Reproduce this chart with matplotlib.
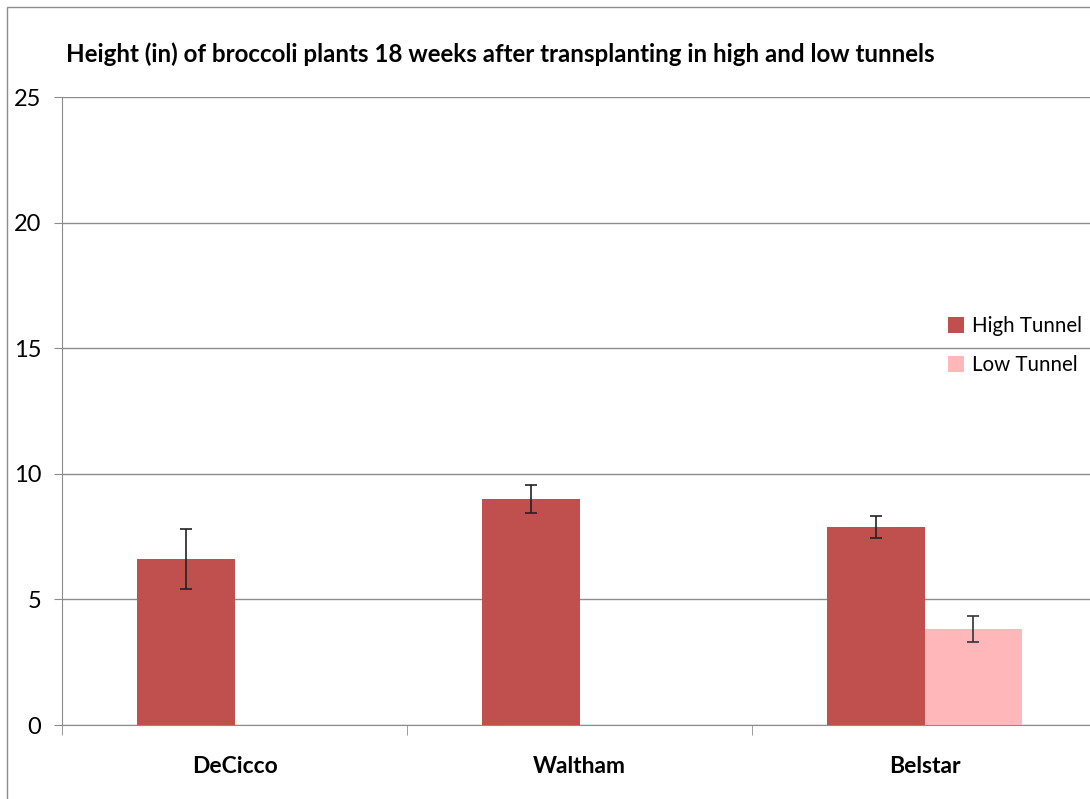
import matplotlib.pyplot as plt
import numpy as np
from matplotlib.patches import Rectangle

plt.rcParams['font.family'] = ['Lato', 'DejaVu Sans']

varieties = ["DeCicco", "Waltham", "Belstar"]
high = [6.62, 9.0, 7.88]
high_err = [1.2, 0.55, 0.45]
low = [np.nan, np.nan, 3.82]
low_err = [np.nan, np.nan, 0.52]
yticks = [0, 5, 10, 15, 20, 25]

fig = plt.figure(figsize=(10.9, 7.99), dpi=100)
W, H = 1090, 799
ax = fig.add_axes([62 / W, 1 - 725 / H, 1035 / W, 628 / H])

x = np.arange(len(varieties))
w = 0.284
ax.bar(x - w / 2, high, w, color="#C0504D", label="High Tunnel", zorder=3)
ax.bar(x + w / 2, low, w, color="#FFB7BA", label="Low Tunnel", zorder=3)
ax.errorbar(x - w / 2, high, yerr=high_err, fmt="none", ecolor="#222222",
            elinewidth=1.2, capsize=4, capthick=1.2, zorder=4)
ax.errorbar(x + w / 2, low, yerr=low_err, fmt="none", ecolor="#333333",
            elinewidth=1.2, capsize=4, capthick=1.2, zorder=4)

ax.set_xlim(-0.5, 2.5)
ax.set_ylim(0, 25)
ax.set_yticks(yticks)
ax.yaxis.grid(True, color="#8c8c8c", lw=1)
ax.set_axisbelow(True)
for s in ["top", "right"]:
    ax.spines[s].set_visible(False)
for s in ["left", "bottom"]:
    ax.spines[s].set_color("#8c8c8c")
ax.tick_params(axis="y", length=6, color="#8c8c8c", pad=9, labelsize=17)
ax.set_xticks(x)
ax.set_xticklabels(varieties, fontsize=16.5, fontweight="bold")
ax.tick_params(axis="x", which="major", length=0, pad=22)
ax.set_xticks([-0.5, 0.5, 1.5], minor=True)
ax.tick_params(axis="x", which="minor", length=7, color="#8c8c8c")

fig.text(66 / W, 1 - 54 / H, "Height (in) of broccoli plants 18 weeks after transplanting in high and low tunnels",
         fontsize=17.4, fontweight="bold", va="center", ha="left")

ax.legend(loc="upper left", bbox_to_anchor=(929 / W, 1 - 298 / H), bbox_transform=fig.transFigure,
          frameon=False, fontsize=14.8, handlelength=0.8, handleheight=0.8, handletextpad=0.4,
          labelspacing=0.9)

fig.patches.append(Rectangle((7 / W, -0.1), 1.2, 1 - 7 / H + 0.1, transform=fig.transFigure,
                             fill=False, edgecolor="#8c8c8c", lw=1))

fig.savefig("out.png", dpi=100)
